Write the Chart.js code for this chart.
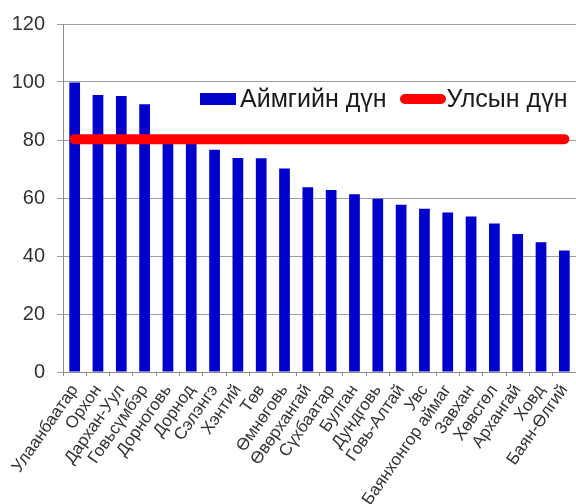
<!DOCTYPE html>
<html>
<head>
<meta charset="utf-8">
<script src="https://cdn.jsdelivr.net/npm/chart.js@4.4.1/dist/chart.umd.min.js"></script>
<style>
  html, body { margin: 0; padding: 0; background: #fff; overflow: hidden; }
  #wrap { position: relative; width: 576px; height: 504px; }
  .legend {
    position: absolute; left: 200px; top: 84px;
    display: flex; align-items: center;
    font-family: "Liberation Sans", Arial, sans-serif; font-size: 25px; color: #1a1a1a;
    white-space: nowrap;
  }
  .legend .box { display: inline-block; width: 36px; height: 12px; background: #0000CC; margin-right: 4px; }
  .legend .ln  { display: inline-block; width: 46px; height: 10px; border-radius: 5px; background: #FF0000; margin: 0 1px 0 13px; }
</style>
</head>
<body>
<div id="wrap">
  <canvas id="c" width="576" height="504"></canvas>
  <div class="legend">
    <span class="box"></span><span>Аймгийн дүн</span>
    <span class="ln"></span><span>Улсын дүн</span>
  </div>
</div>
<script>
  // aimag names, left to right as on the x axis
  var aimags = [
    "Улаанбаатар", "Орхон", "Дархан-Уул", "Говьсүмбэр", "Дорноговь", "Дорнод",
    "Сэлэнгэ", "Хэнтий", "Төв", "Өмнөговь", "Өвөрхангай", "Сүхбаатар",
    "Булган", "Дундговь", "Говь-Алтай", "Увс", "Баянхонгор аймаг", "Завхан",
    "Хөвсгөл", "Архангай", "Ховд", "Баян-Өлгий"
  ];
  // Аймгийн дүн (bar heights)
  var aimagScore = [
    99.8, 95.5, 95.2, 92.3, 79.5, 79.2,
    76.6, 73.8, 73.7, 70.2, 63.7, 62.8,
    61.3, 59.7, 57.7, 56.3, 55.0, 53.6,
    51.2, 47.6, 44.7, 41.9
  ];
  // Улсын дүн (national average, one value)
  var nationalScore = 80.3;
  var yTicks = [0, 20, 40, 60, 80, 100, 120];

  var FONT = "'Liberation Sans', Arial, sans-serif";

  new Chart(document.getElementById("c"), {
    type: "bar",
    data: {
      labels: aimags,
      datasets: [
        {
          type: "line",
          label: "Улсын дүн",
          data: aimags.map(function () { return nationalScore; }),
          borderColor: "#FF0000",
          backgroundColor: "#FF0000",
          borderWidth: 10,
          borderCapStyle: "round",
          pointRadius: 0,
          order: 0
        },
        {
          label: "Аймгийн дүн",
          data: aimagScore,
          backgroundColor: "#0000CC",
          barPercentage: 0.46,
          categoryPercentage: 1.0,
          order: 1
        }
      ]
    },
    options: {
      responsive: false,
      animation: false,
      layout: { padding: { left: 10, top: 18, right: 0, bottom: 0 } },
      plugins: { legend: { display: false }, tooltip: { enabled: false } },
      scales: {
        x: {
          grid: { drawOnChartArea: false, tickLength: 4, color: "#8c8c8c", offset: true },
          border: { color: "#8c8c8c" },
          ticks: {
            autoSkip: false, minRotation: 55, maxRotation: 55, padding: 5,
            color: "#333", font: { family: FONT, size: 17 }
          },
          afterFit: function (s) { s.height = 132; s.paddingRight = -2; }
        },
        y: {
          min: 0, max: 120,
          afterBuildTicks: function (s) { s.ticks = yTicks.map(function (v) { return { value: v }; }); },
          grid: { color: "#9e9e9e", tickLength: 6 },
          border: { color: "#8c8c8c" },
          ticks: { padding: 12, color: "#333", font: { family: FONT, size: 20 } },
          afterFit: function (s) { s.width = 53; }
        }
      }
    }
  });
</script>
</body>
</html>
